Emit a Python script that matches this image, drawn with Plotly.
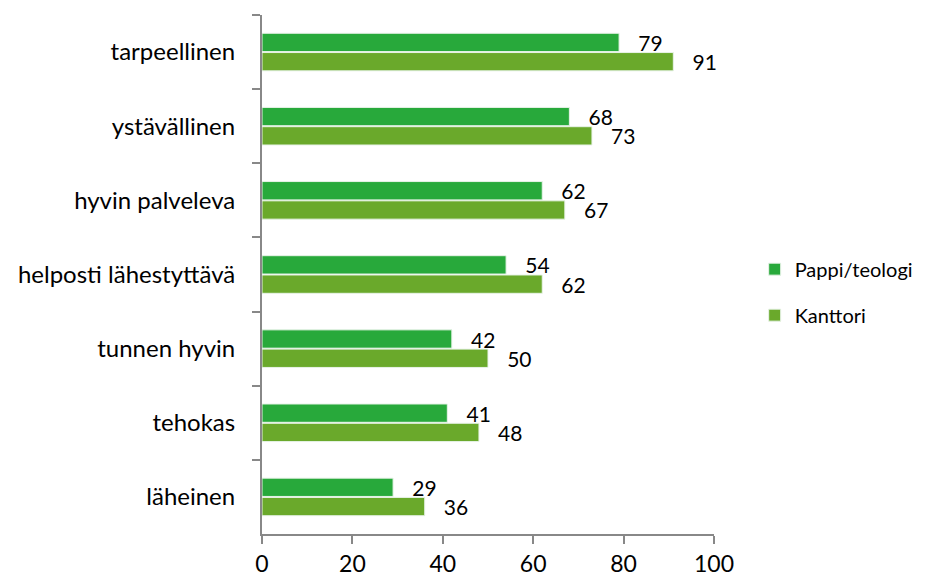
import plotly.graph_objects as go

categories = ['tarpeellinen', 'ystävällinen', 'hyvin palveleva', 'helposti lähestyttävä',
              'tunnen hyvin', 'tehokas', 'läheinen']
pappi = [79, 68, 62, 54, 42, 41, 29]
kanttori = [91, 73, 67, 62, 50, 48, 36]

font = 'Lato'
fs = 23
vs = 21

fig = go.Figure()
fig.add_trace(go.Bar(
    y=categories, x=pappi, name='Pappi/teologi', orientation='h', legendgroup='a',
    marker=dict(color='#28a93b', line=dict(color='#e8f3e8', width=1)),
    text=pappi, texttemplate='   %{x}', textposition='outside',
    textfont=dict(size=vs, color='black', family=font), cliponaxis=False
))
fig.add_trace(go.Bar(
    y=categories, x=kanttori, name='Kanttori', orientation='h', legendgroup='b',
    marker=dict(color='#6aa92b', line=dict(color='#e8f3e8', width=1)),
    text=kanttori, texttemplate='   %{x}', textposition='outside',
    textfont=dict(size=vs, color='black', family=font), cliponaxis=False
))

# page has an 8px body margin, so figure is 918x570 and offsets are shifted
fig.update_layout(
    width=918, height=570,
    barmode='group', bargap=0.48, bargroupgap=0.05,
    plot_bgcolor='white', paper_bgcolor='white',
    margin=dict(l=254, r=212, t=7, b=44, autoexpand=False),
    font=dict(family=font, size=fs, color='black'),
    showlegend=True,
    legend=dict(x=1.09, y=0.466, xanchor='left', yanchor='middle',
                font=dict(size=20), traceorder='grouped', tracegroupgap=17,
                itemwidth=30),
    uniformtext=dict(minsize=vs, mode='show'),
)
fig.update_xaxes(range=[0, 100], dtick=20, showgrid=False, zeroline=False, automargin=False,
                 showline=True, linecolor='#888888', linewidth=2,
                 ticks='outside', ticklen=8, tickcolor='#888888', tickwidth=2,
                 tickfont=dict(size=fs))
fig.update_yaxes(autorange='reversed', showgrid=False, showline=True, automargin=False,
                 linecolor='#888888', linewidth=2, ticks='outside',
                 tickson='boundaries', ticklen=8, tickcolor='#888888', tickwidth=2,
                 tickfont=dict(size=24), ticklabelstandoff=20)

fig.write_html("out.html")
